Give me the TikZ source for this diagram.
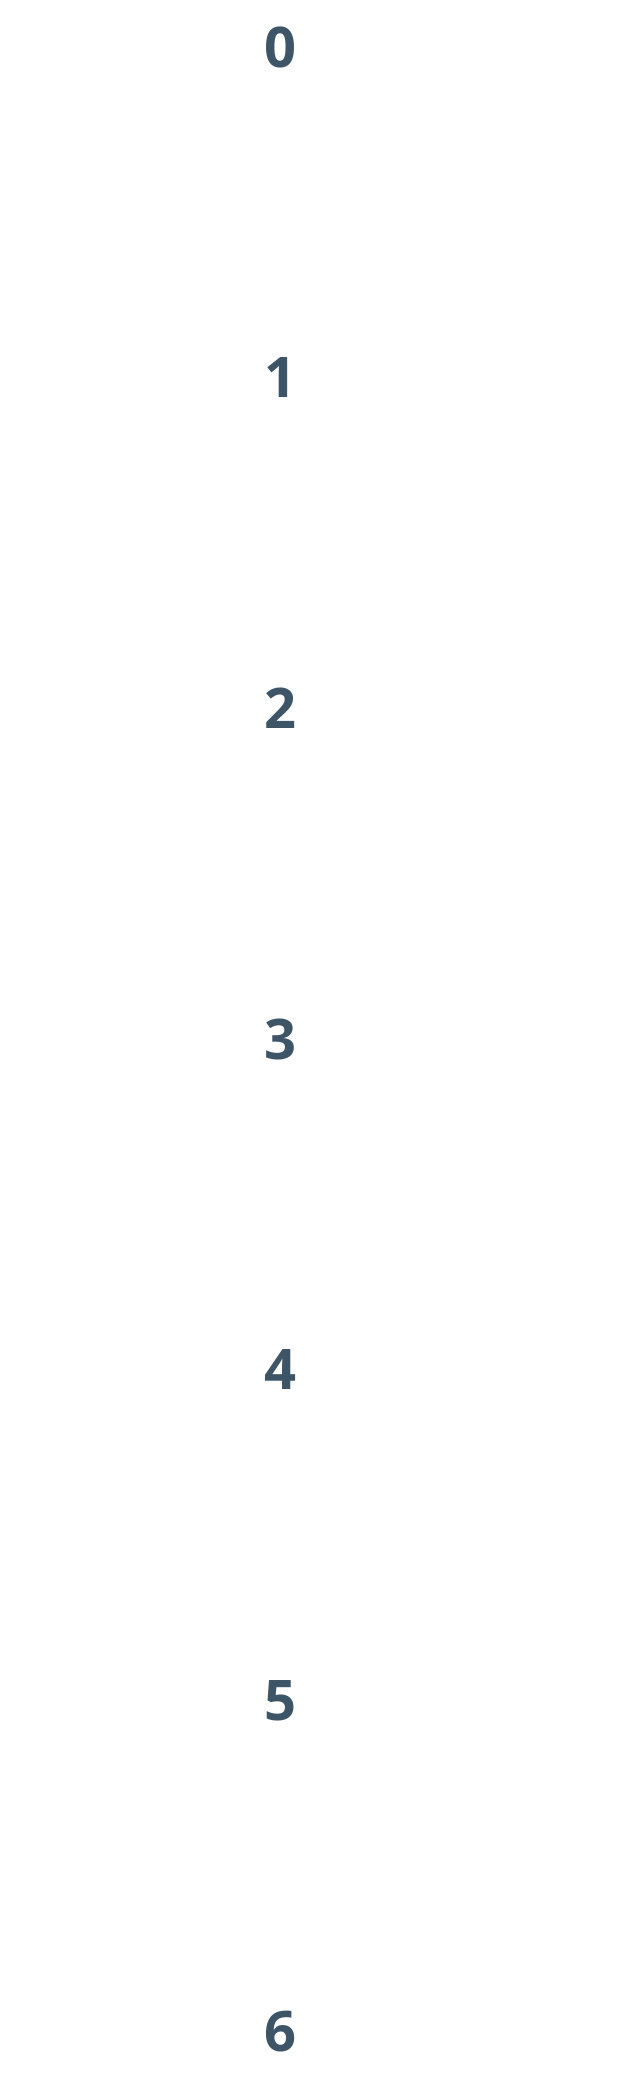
\documentclass[tikz,border=0pt]{standalone}
\usepackage{fontspec}
\setmainfont{Open Sans}
\definecolor{digitcol}{HTML}{3E5568}
\tikzset{digit/.style={text=digitcol,font=\fontsize{56}{60}\selectfont\bfseries,inner sep=0pt}}
\begin{document}
\begin{tikzpicture}[x=1pt,y=-1pt]
	\useasboundingbox[fill=white] (0,0) rectangle (620,2077);
	\foreach \i in {0,...,6}
		\node[digit] (d\i) at (280,{47+330.7*\i}) {\i};
\end{tikzpicture}
\end{document}
